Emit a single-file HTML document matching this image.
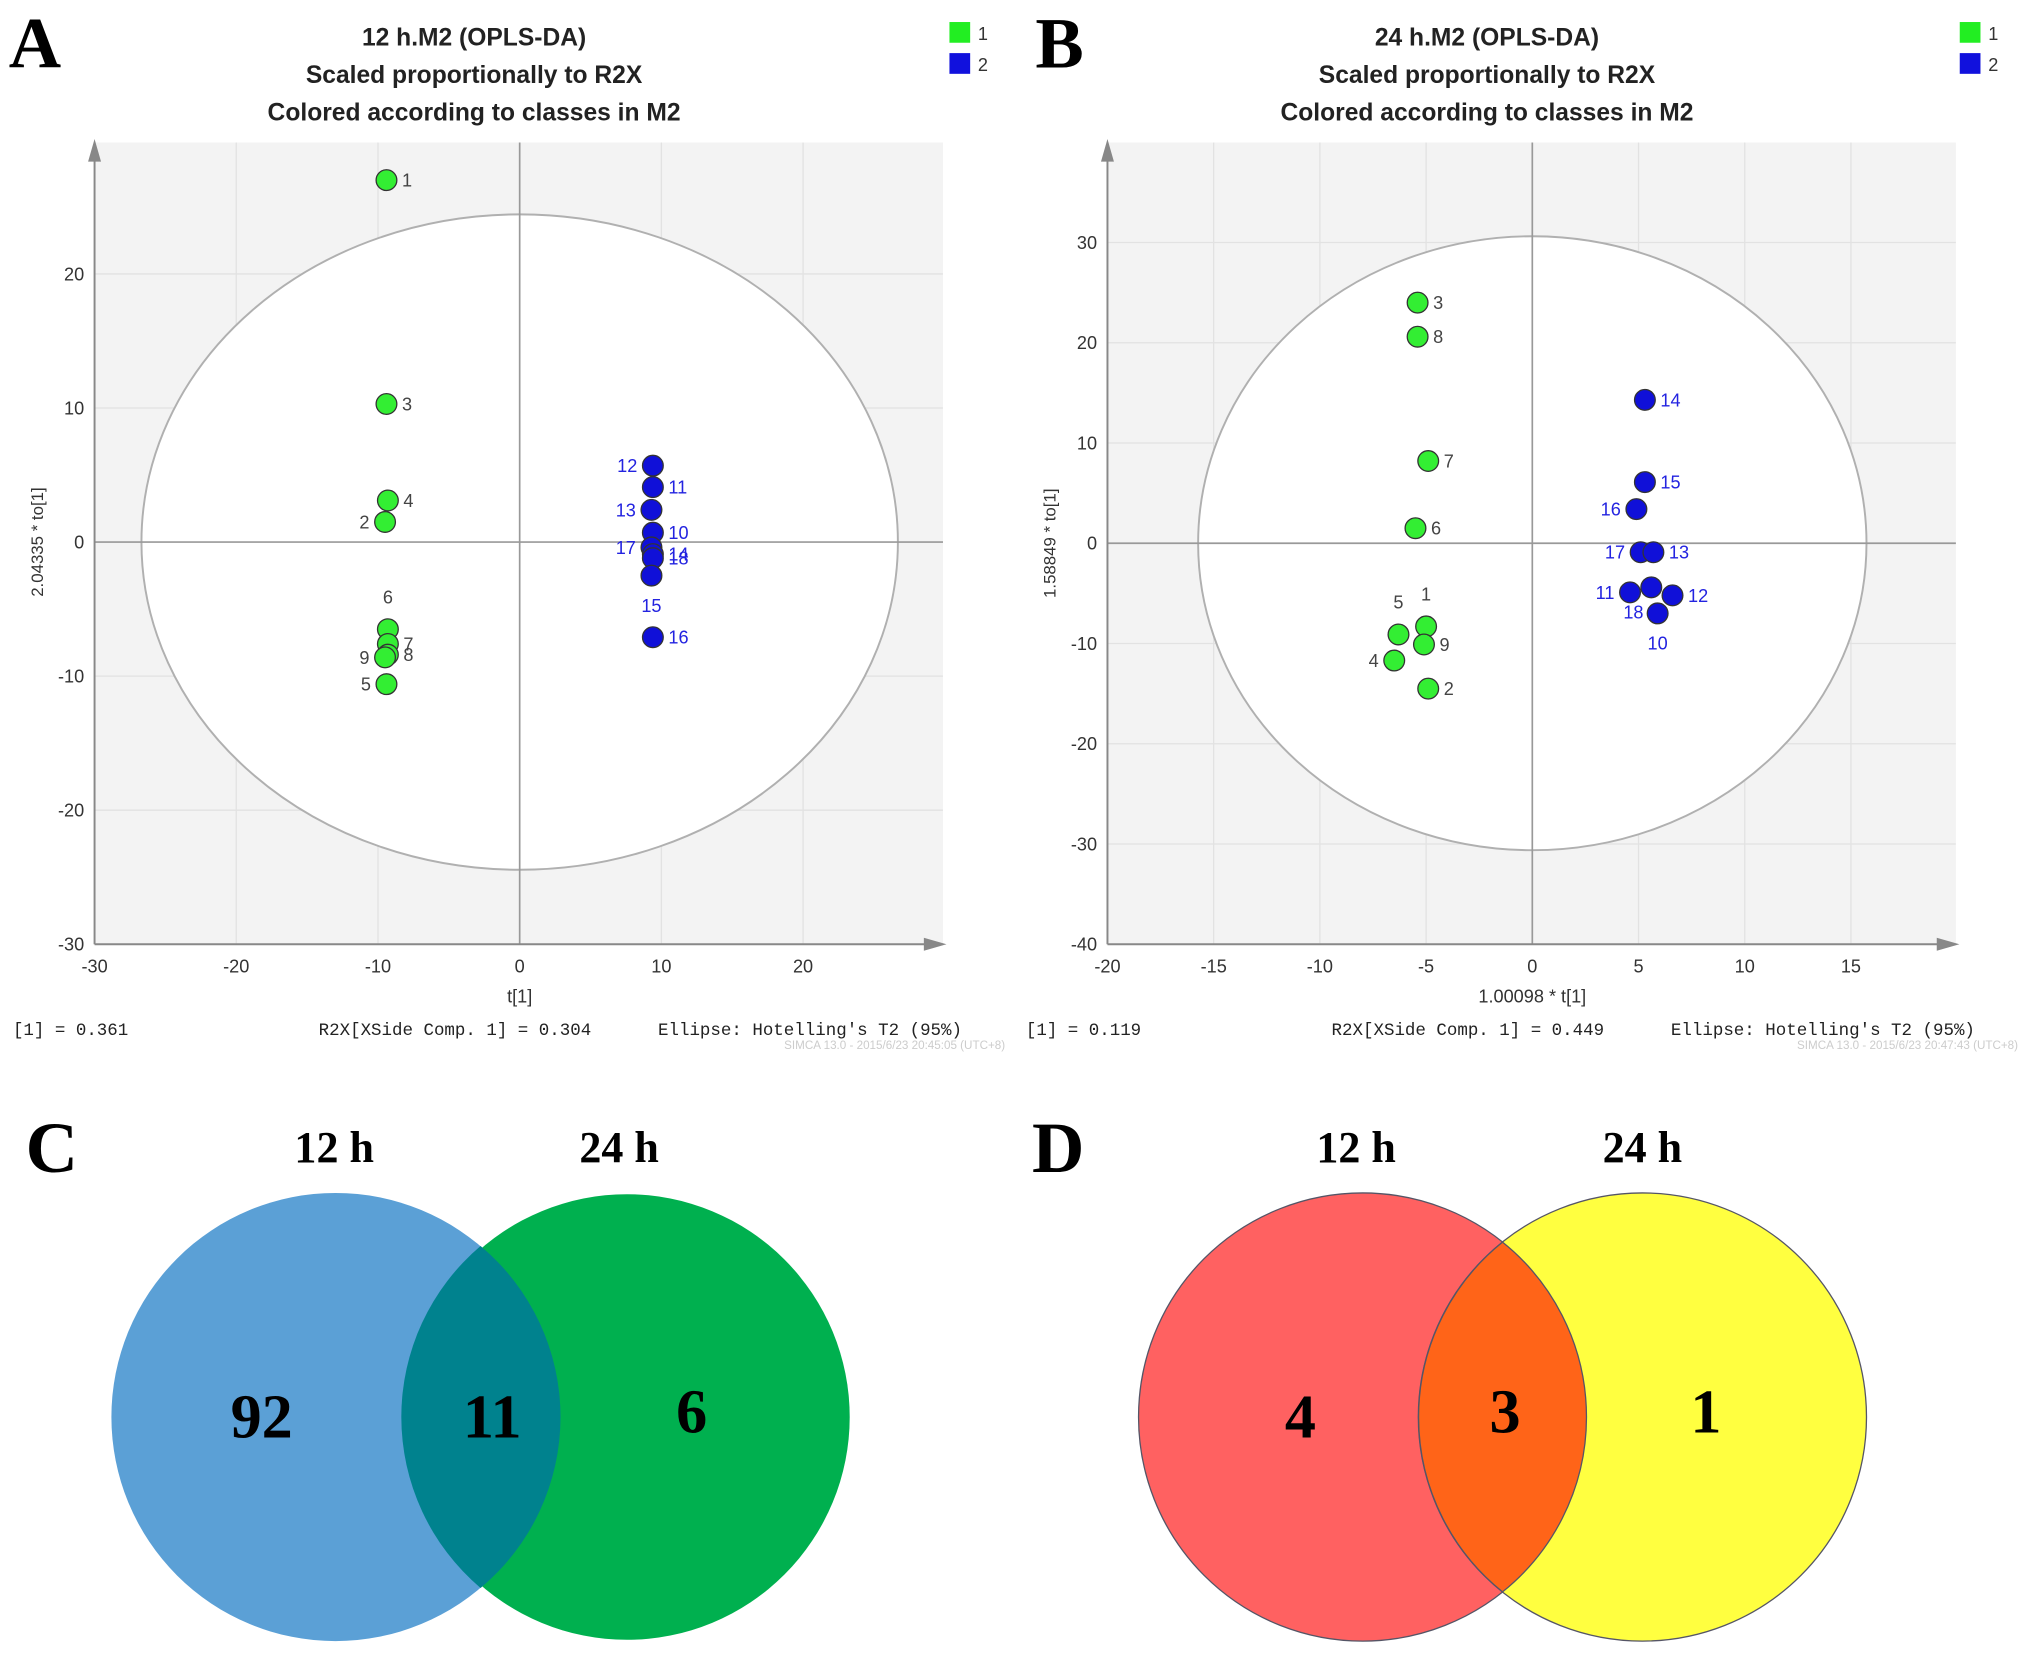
<!DOCTYPE html>
<html><head><meta charset="utf-8"><style>
html,body{margin:0;padding:0;background:#fff}
svg{display:block}
.t{font-family:"Liberation Sans",sans-serif}
.m{font-family:"Liberation Mono",monospace}
.s{font-family:"Liberation Serif",serif;font-weight:bold}
</style></head><body>
<svg id="fig" width="2031" height="1656" viewBox="0 0 1568 1278.5" xmlns="http://www.w3.org/2000/svg">
<g>
<text class="s" x="40" y="905" font-size="56" text-anchor="middle">C</text>
<text class="s" x="258" y="897" font-size="34" text-anchor="middle">12 h</text>
<text class="s" x="478" y="897" font-size="34" text-anchor="middle">24 h</text>
<circle cx="259" cy="1094" r="173" fill="#5ba0d6"/>
<circle cx="484" cy="1094" r="172" fill="#00b04f"/>
<path d="M371,962 A172,172 0 0 1 371,1226 A173,173 0 0 1 371,962Z" fill="#00828e"/>
<text class="s" x="202" y="1110" font-size="48" text-anchor="middle">92</text>
<text class="s" x="380" y="1110" font-size="48" text-anchor="middle">11</text>
<text class="s" x="534" y="1106" font-size="48" text-anchor="middle">6</text>
</g>
<g>
<text class="s" x="817" y="905" font-size="56" text-anchor="middle">D</text>
<text class="s" x="1047" y="897" font-size="34" text-anchor="middle">12 h</text>
<text class="s" x="1268" y="897" font-size="34" text-anchor="middle">24 h</text>
<circle cx="1052" cy="1094" r="173" fill="#ff6161" stroke="#556" stroke-width="1"/>
<circle cx="1268" cy="1094" r="173" fill="#ffff40" stroke="#556" stroke-width="1"/>
<path d="M1160,959 A173,173 0 0 1 1160,1229 A173,173 0 0 1 1160,959Z" fill="#ff6418" stroke="#556" stroke-width="1"/>
<text class="s" x="1004" y="1110" font-size="48" text-anchor="middle">4</text>
<text class="s" x="1162" y="1106" font-size="48" text-anchor="middle">3</text>
<text class="s" x="1317" y="1106" font-size="48" text-anchor="middle">1</text>
</g>
</svg>
<script>
// Panel A data
const aGreenLabels=["1","3","4","2","6","7","8","9","5"];
const aGreenX=[-9.4,-9.4,-9.3,-9.5,-9.3,-9.3,-9.3,-9.5,-9.4];
const aGreenY=[27,10.3,3.1,1.5,-6.5,-7.6,-8.4,-8.6,-10.6];
const aBlueLabels=["12","11","13","10","17","14","18","15","16"];
const aBlueX=[9.4,9.4,9.3,9.4,9.3,9.4,9.4,9.3,9.4];
const aBlueY=[5.7,4.1,2.4,0.7,-0.4,-0.9,-1.2,-2.5,-7.1];
const aXTicks=[-30,-20,-10,0,10,20];
const aYTicks=[-30,-20,-10,0,10,20];
// Panel B data
const bGreenLabels=["3","8","7","6","5","1","9","4","2"];
const bGreenX=[-5.4,-5.4,-4.9,-5.5,-6.3,-5.0,-5.1,-6.5,-4.9];
const bGreenY=[24,20.6,8.2,1.5,-9.1,-8.3,-10.1,-11.7,-14.5];
const bBlueLabels=["14","15","16","17","13","11","18","12","10"];
const bBlueX=[5.3,5.3,4.9,5.1,5.7,4.6,5.6,6.6,5.9];
const bBlueY=[14.3,6.1,3.4,-0.9,-0.9,-4.9,-4.4,-5.2,-7.0];
const bXTicks=[-20,-15,-10,-5,0,5,10,15];
const bYTicks=[-40,-30,-20,-10,0,10,20,30];

const NS="http://www.w3.org/2000/svg";
const svg=document.getElementById('fig');
function mk(tag,attrs,parent,txt){const e=document.createElementNS(NS,tag);for(const k in attrs)e.setAttribute(k,attrs[k]);if(txt!==undefined)e.textContent=txt;parent.appendChild(e);return e;}

function panel(o){
  const g=mk('g',{},svg);
  
  
  const sx=v=>o.x0+(v-o.xmin)*o.kx, sy=v=>o.y0-(v-o.ymin)*o.ky;
  const L=mk('text',{class:'s',x:o.letX,y:52,'font-size':56,'text-anchor':'middle'},g,o.letter);
  
  
  o.titles.forEach((t,i)=>{const e=mk('text',{class:'t',x:o.tx,y:35+i*29,'font-size':19,'font-weight':'bold','text-anchor':'middle',fill:'#222'},g,t);
    
    });
  // legend
  [['#22ee22','1',17],['#1111dd','2',41]].forEach(([c,l,y])=>{
    const r=mk('rect',{x:o.legX,y:y,width:16,height:16,fill:c},g);
    
    
    const t=mk('text',{class:'t',x:o.legX+22,y:y+14,'font-size':14,fill:'#333'},g,l);
    
    
  });
  const bg=mk('rect',{x:o.x0,y:110,width:o.x1-o.x0,height:o.y0-110,fill:'#f3f3f3'},g);
  
  
  o.xt.forEach(v=>{const x=sx(v);
    const l=mk('line',{x1:x,y1:110,x2:x,y2:o.y0,stroke:'#e2e2e2'},g);
    
    
    const t=mk('text',{class:'t',x:x,y:o.y0+22,'font-size':14,'text-anchor':'middle',fill:'#333'},g,v);
    
    });
  o.yt.forEach(v=>{const y=sy(v);
    const l=mk('line',{x1:o.x0,y1:y,x2:o.x1,y2:y,stroke:'#e2e2e2'},g);
    
    
    const t=mk('text',{class:'t',x:o.x0-8,y:y+5,'font-size':14,'text-anchor':'end',fill:'#333'},g,v);
    
    });
  const el=mk('ellipse',{cx:sx(0),cy:sy(0),rx:o.rx,ry:o.ry,fill:'#fff',stroke:'#b0b0b0','stroke-width':1.5},g);
  
  
  const h=mk('line',{x1:o.x0,y1:sy(0),x2:o.x1,y2:sy(0),stroke:'#999','stroke-width':1.3},g);
  
  
  const vl=mk('line',{x1:sx(0),y1:110,x2:sx(0),y2:o.y0,stroke:'#999','stroke-width':1.3},g);
  
  
  const xa=mk('path',{d:`M${o.x0},${o.y0}H${o.x1-14} M${o.x1-14},${o.y0-4}L${o.x1},${o.y0}L${o.x1-14},${o.y0+4}Z`,stroke:'#888','stroke-width':1.5,fill:'#888'},g);
  
  
  const ya=mk('path',{d:`M${o.x0},${o.y0}V124 M${o.x0-4},124L${o.x0},110L${o.x0+4},124Z`,stroke:'#888','stroke-width':1.5,fill:'#888'},g);
  
  
  const xl=mk('text',{class:'t',x:sx(0),y:o.y0+45,'font-size':14,'text-anchor':'middle',fill:'#333'},g,o.xlab);
  
  
  const yl=mk('text',{class:'t',x:0,y:0,'font-size':13,'text-anchor':'middle',fill:'#333',transform:`translate(${o.x0-40},${sy(0)}) rotate(-90)`},g,o.ylab);
  
  
  const drawPts=(xs,ys,labs,fill,tc,pos,cls)=>{
    xs.forEach((xv,i)=>{const cx=sx(xv),cy=sy(ys[i]);
      const c=mk('circle',{cx:cx,cy:cy,r:8,fill:fill,stroke:'#333','stroke-width':1},g);
      
      
      const p=pos[i]||'r';let tx=cx+12,ty=cy+5,a='start';
      if(p==='l'){tx=cx-12;a='end';} if(p==='u'){tx=cx;ty=cy-20;a='middle';} if(p==='d'){tx=cx;ty=cy+28;a='middle';}
      if(p==='dl'){tx=cx-6;ty=cy+24;a='end';}
      const t=mk('text',{class:'t',x:tx,y:ty,'font-size':14,fill:tc,'text-anchor':a},g,labs[i]);
      
      });
  };
  drawPts(o.gx,o.gy,o.gl,'#33ee33','#444',o.gpos,'green');
  drawPts(o.bx,o.by,o.bl,'#1010d8','#2323e0',o.bpos,'blue');
  o.foot.forEach(([x,s])=>{const t=mk('text',{class:'m',x:x,y:799,'font-size':13.5,fill:'#222'},g,s);
    
    });
  const w=mk('text',{class:'t',x:o.x1+48,y:810,'font-size':9,fill:'#ccc','text-anchor':'end'},g,o.wm);
  
  
}
panel({id:'panel-a',letter:'A',letX:27,tx:366,legX:733,titles:['12 h.M2 (OPLS-DA)','Scaled proportionally to R2X','Colored according to classes in M2'],
  x0:73,x1:728,y0:729,xmin:-30,ymin:-30,kx:10.94,ky:10.35,rx:292,ry:253,xt:aXTicks,yt:aYTicks,xlab:'t[1]',ylab:'2.04335 * to[1]',
  gx:aGreenX,gy:aGreenY,gl:aGreenLabels,gpos:['r','r','r','l','u','r','r','l','l'],
  bx:aBlueX,by:aBlueY,bl:aBlueLabels,bpos:['l','r','l','r','l','r','r','d','r'],
  foot:[[10,'[1] = 0.361'],[246,'R2X[XSide Comp. 1] = 0.304'],[508,"Ellipse: Hotelling's T2 (95%)"]],wm:'SIMCA 13.0 - 2015/6/23 20:45:05 (UTC+8)'});
panel({id:'panel-b',letter:'B',letX:818,tx:1148,legX:1513,titles:['24 h.M2 (OPLS-DA)','Scaled proportionally to R2X','Colored according to classes in M2'],
  x0:855,x1:1510,y0:729,xmin:-20,ymin:-40,kx:16.4,ky:7.74,rx:258,ry:237,xt:bXTicks,yt:bYTicks,xlab:'1.00098 * t[1]',ylab:'1.58849 * to[1]',
  gx:bGreenX,gy:bGreenY,gl:bGreenLabels,gpos:['r','r','r','r','u','u','r','l','r'],
  bx:bBlueX,by:bBlueY,bl:bBlueLabels,bpos:['r','r','l','l','r','l','dl','r','d'],
  foot:[[792,'[1] = 0.119'],[1028,'R2X[XSide Comp. 1] = 0.449'],[1290,"Ellipse: Hotelling's T2 (95%)"]],wm:'SIMCA 13.0 - 2015/6/23 20:47:43 (UTC+8)'});
</script>
</body></html>
